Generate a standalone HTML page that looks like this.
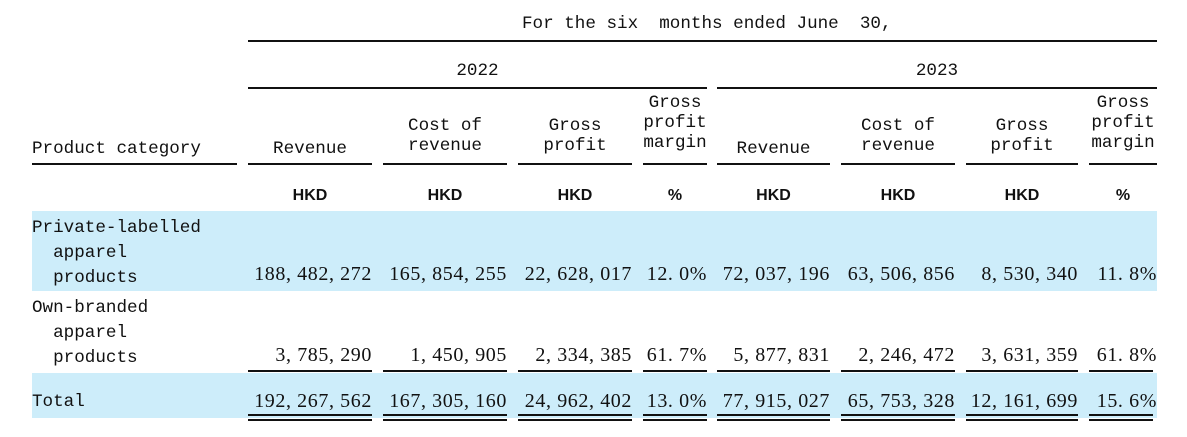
<!DOCTYPE html>
<html><head><meta charset="utf-8"><style>
body{margin:0;width:1187px;height:437px;background:#fff;position:relative;overflow:hidden;font-family:"Liberation Mono","Noto Sans CJK SC",monospace;color:#111}
.t{position:absolute;font-size:17.6px;line-height:20px;white-space:pre;margin-top:2px}
.c{text-align:center}
.n{position:absolute;font-family:"Liberation Serif",serif;font-size:20px;letter-spacing:0.6px;line-height:22px;text-align:right;white-space:pre;margin-top:1px}
.h{position:absolute;font-family:"Liberation Sans",sans-serif;font-weight:bold;font-size:16px;text-align:center;line-height:20px;margin-top:2px}
.l{position:absolute;height:2px;background:#111}
.b{position:absolute;background:#cdedfa}
</style></head><body>
<div class="b" style="left:32px;top:211px;width:1125px;height:80px"></div>
<div class="b" style="left:32px;top:373px;width:1125px;height:45px"></div>

<div class="t" style="left:522px;top:12px">For the six  months ended June  30,</div>
<div class="l" style="left:248px;top:40px;width:909px"></div>
<div class="t c" style="left:248px;top:59px;width:459px">2022</div>
<div class="t c" style="left:717px;top:59px;width:440px">2023</div>
<div class="l" style="left:248px;top:87px;width:459px"></div>
<div class="l" style="left:717px;top:87px;width:440px"></div>

<div class="t" style="left:32px;top:137px">Product category</div>
<div class="t c" style="left:248px;top:137px;width:124px">Revenue</div>
<div class="t c" style="left:383px;top:114px;width:124px">Cost of
revenue</div>
<div class="t c" style="left:518px;top:114px;width:114px">Gross
profit</div>
<div class="t c" style="left:643px;top:91px;width:64px">Gross
profit
margin</div>
<div class="t c" style="left:717px;top:137px;width:113px">Revenue</div>
<div class="t c" style="left:841px;top:114px;width:114px">Cost of
revenue</div>
<div class="t c" style="left:966px;top:114px;width:112px">Gross
profit</div>
<div class="t c" style="left:1089px;top:91px;width:68px">Gross
profit
margin</div>

<div class="l" style="left:32px;top:163px;width:205px"></div>
<div class="l" style="left:248px;top:163px;width:124px"></div>
<div class="l" style="left:383px;top:163px;width:124px"></div>
<div class="l" style="left:518px;top:163px;width:114px"></div>
<div class="l" style="left:643px;top:163px;width:64px"></div>
<div class="l" style="left:717px;top:163px;width:113px"></div>
<div class="l" style="left:841px;top:163px;width:114px"></div>
<div class="l" style="left:966px;top:163px;width:112px"></div>
<div class="l" style="left:1089px;top:163px;width:68px"></div>

<div class="h" style="left:248px;top:184px;width:124px">HKD</div>
<div class="h" style="left:383px;top:184px;width:124px">HKD</div>
<div class="h" style="left:518px;top:184px;width:114px">HKD</div>
<div class="h" style="left:643px;top:184px;width:64px">%</div>
<div class="h" style="left:717px;top:184px;width:113px">HKD</div>
<div class="h" style="left:841px;top:184px;width:114px">HKD</div>
<div class="h" style="left:966px;top:184px;width:112px">HKD</div>
<div class="h" style="left:1089px;top:184px;width:68px">%</div>

<div class="t" style="left:32px;top:214px;line-height:25px">Private-labelled
  apparel
  products</div>
<div class="n" style="right:815px;top:262px">188, 482, 272</div>
<div class="n" style="right:680px;top:262px">165, 854, 255</div>
<div class="n" style="right:555px;top:262px">22, 628, 017</div>
<div class="n" style="right:480px;top:262px">12. 0%</div>
<div class="n" style="right:357px;top:262px">72, 037, 196</div>
<div class="n" style="right:232px;top:262px">63, 506, 856</div>
<div class="n" style="right:109px;top:262px">8, 530, 340</div>
<div class="n" style="right:30px;top:262px">11. 8%</div>

<div class="t" style="left:32px;top:294px;line-height:25px">Own-branded
  apparel
  products</div>
<div class="n" style="right:815px;top:343px">3, 785, 290</div>
<div class="n" style="right:680px;top:343px">1, 450, 905</div>
<div class="n" style="right:555px;top:343px">2, 334, 385</div>
<div class="n" style="right:480px;top:343px">61. 7%</div>
<div class="n" style="right:357px;top:343px">5, 877, 831</div>
<div class="n" style="right:232px;top:343px">2, 246, 472</div>
<div class="n" style="right:109px;top:343px">3, 631, 359</div>
<div class="n" style="right:30px;top:343px">61. 8%</div>

<div class="l" style="left:248px;top:370px;width:124px"></div>
<div class="l" style="left:383px;top:370px;width:124px"></div>
<div class="l" style="left:518px;top:370px;width:114px"></div>
<div class="l" style="left:643px;top:370px;width:64px"></div>
<div class="l" style="left:717px;top:370px;width:113px"></div>
<div class="l" style="left:841px;top:370px;width:114px"></div>
<div class="l" style="left:966px;top:370px;width:112px"></div>
<div class="l" style="left:1089px;top:370px;width:64px"></div>

<div class="t" style="left:32px;top:390px">Total</div>
<div class="n" style="right:815px;top:389px">192, 267, 562</div>
<div class="n" style="right:680px;top:389px">167, 305, 160</div>
<div class="n" style="right:555px;top:389px">24, 962, 402</div>
<div class="n" style="right:480px;top:389px">13. 0%</div>
<div class="n" style="right:357px;top:389px">77, 915, 027</div>
<div class="n" style="right:232px;top:389px">65, 753, 328</div>
<div class="n" style="right:109px;top:389px">12, 161, 699</div>
<div class="n" style="right:30px;top:389px">15. 6%</div>

<div class="l" style="left:248px;top:414px;width:124px"></div>
<div class="l" style="left:383px;top:414px;width:124px"></div>
<div class="l" style="left:518px;top:414px;width:114px"></div>
<div class="l" style="left:643px;top:414px;width:64px"></div>
<div class="l" style="left:717px;top:414px;width:113px"></div>
<div class="l" style="left:841px;top:414px;width:114px"></div>
<div class="l" style="left:966px;top:414px;width:112px"></div>
<div class="l" style="left:1089px;top:414px;width:64px"></div>
<div class="l" style="left:248px;top:419px;width:124px"></div>
<div class="l" style="left:383px;top:419px;width:124px"></div>
<div class="l" style="left:518px;top:419px;width:114px"></div>
<div class="l" style="left:643px;top:419px;width:64px"></div>
<div class="l" style="left:717px;top:419px;width:113px"></div>
<div class="l" style="left:841px;top:419px;width:114px"></div>
<div class="l" style="left:966px;top:419px;width:112px"></div>
<div class="l" style="left:1089px;top:419px;width:64px"></div>
</body></html>
